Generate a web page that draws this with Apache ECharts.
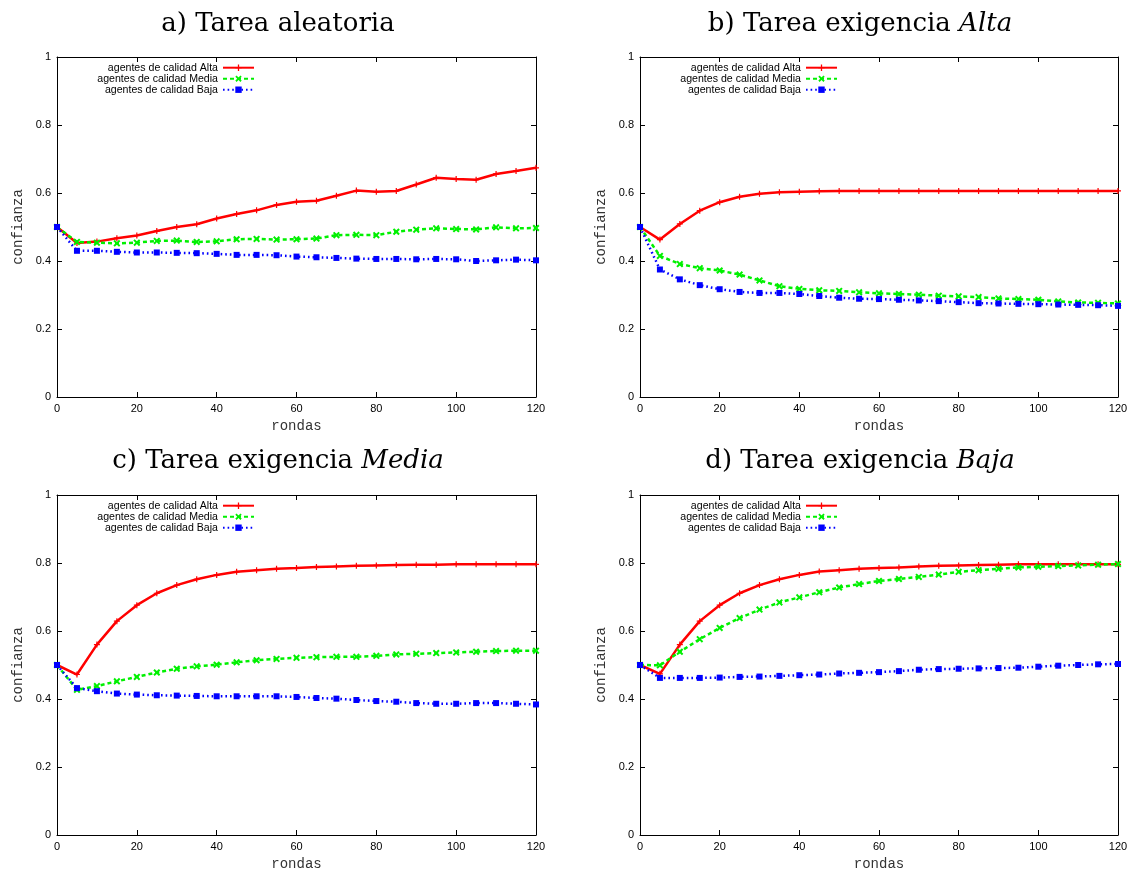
<!DOCTYPE html>
<html>
<head>
<meta charset="utf-8">
<script src="https://cdn.jsdelivr.net/npm/echarts@6/dist/echarts.min.js"></script>
<style>
  html, body { margin: 0; padding: 0; background: #ffffff; }
  #chart { width: 1132px; height: 873px; }
</style>
</head>
<body>
<div id="chart"></div>
<script>
// Rounds sampled every 5 steps
const rondas = [0, 5, 10, 15, 20, 25, 30, 35, 40, 45, 50, 55, 60, 65, 70, 75, 80, 85, 90, 95, 100, 105, 110, 115, 120];

// a) random task
const aleatoriaAlta  = [0.500, 0.453, 0.457, 0.467, 0.475, 0.488, 0.500, 0.508, 0.525, 0.538, 0.549, 0.565, 0.574, 0.577, 0.592, 0.607, 0.604, 0.606, 0.625, 0.645, 0.641, 0.639, 0.656, 0.665, 0.674];
const aleatoriaMedia = [0.500, 0.456, 0.454, 0.452, 0.454, 0.459, 0.460, 0.456, 0.458, 0.464, 0.465, 0.463, 0.464, 0.466, 0.476, 0.477, 0.476, 0.486, 0.492, 0.496, 0.494, 0.493, 0.499, 0.496, 0.497];
const aleatoriaBaja  = [0.500, 0.430, 0.430, 0.427, 0.425, 0.425, 0.424, 0.423, 0.421, 0.418, 0.418, 0.417, 0.413, 0.411, 0.409, 0.407, 0.406, 0.406, 0.405, 0.406, 0.405, 0.400, 0.402, 0.404, 0.402];

// b) high-demand task
const altaAlta  = [0.500, 0.463, 0.509, 0.548, 0.573, 0.589, 0.598, 0.602, 0.604, 0.605, 0.606, 0.606, 0.606, 0.606, 0.606, 0.606, 0.606, 0.606, 0.606, 0.606, 0.606, 0.606, 0.606, 0.606, 0.606];
const altaMedia = [0.500, 0.415, 0.391, 0.379, 0.372, 0.360, 0.343, 0.326, 0.318, 0.314, 0.312, 0.308, 0.305, 0.303, 0.301, 0.298, 0.296, 0.294, 0.290, 0.288, 0.286, 0.281, 0.278, 0.277, 0.275];
const altaBaja  = [0.500, 0.375, 0.346, 0.329, 0.317, 0.309, 0.306, 0.306, 0.303, 0.297, 0.292, 0.289, 0.288, 0.286, 0.284, 0.282, 0.279, 0.276, 0.275, 0.274, 0.273, 0.272, 0.271, 0.270, 0.268];

// c) medium-demand task
const mediaAlta  = [0.500, 0.472, 0.560, 0.629, 0.676, 0.711, 0.735, 0.752, 0.765, 0.774, 0.779, 0.783, 0.785, 0.788, 0.790, 0.792, 0.793, 0.794, 0.795, 0.795, 0.796, 0.796, 0.796, 0.796, 0.796];
const mediaMedia = [0.500, 0.427, 0.438, 0.452, 0.465, 0.478, 0.489, 0.496, 0.501, 0.508, 0.514, 0.518, 0.521, 0.523, 0.524, 0.524, 0.527, 0.531, 0.533, 0.535, 0.537, 0.539, 0.541, 0.542, 0.542];
const mediaBaja  = [0.500, 0.432, 0.423, 0.416, 0.413, 0.411, 0.410, 0.409, 0.408, 0.408, 0.408, 0.408, 0.406, 0.403, 0.401, 0.397, 0.394, 0.392, 0.388, 0.386, 0.386, 0.388, 0.388, 0.386, 0.384];

// d) low-demand task
const bajaAlta  = [0.500, 0.474, 0.560, 0.629, 0.676, 0.711, 0.735, 0.752, 0.765, 0.775, 0.779, 0.783, 0.785, 0.787, 0.790, 0.792, 0.793, 0.794, 0.795, 0.796, 0.796, 0.796, 0.796, 0.796, 0.796];
const bajaMedia = [0.500, 0.499, 0.539, 0.576, 0.609, 0.638, 0.663, 0.684, 0.699, 0.714, 0.728, 0.738, 0.747, 0.753, 0.759, 0.766, 0.774, 0.779, 0.783, 0.787, 0.789, 0.791, 0.793, 0.795, 0.797];
const bajaBaja  = [0.500, 0.462, 0.462, 0.462, 0.463, 0.465, 0.466, 0.468, 0.470, 0.472, 0.475, 0.477, 0.479, 0.482, 0.486, 0.488, 0.489, 0.490, 0.491, 0.492, 0.495, 0.498, 0.500, 0.502, 0.503];

const seriesNames = ['agentes de calidad Alta', 'agentes de calidad Media', 'agentes de calidad Baja'];
const panelTitles = [
  '{n|a) Tarea aleatoria}',
  '{n|b) Tarea exigencia }{i|Alta}',
  '{n|c) Tarea exigencia }{i|Media}',
  '{n|d) Tarea exigencia }{i|Baja}'
];
const panelData = [
  [aleatoriaAlta, aleatoriaMedia, aleatoriaBaja],
  [altaAlta, altaMedia, altaBaja],
  [mediaAlta, mediaMedia, mediaBaja],
  [bajaAlta, bajaMedia, bajaBaja]
];
const xName = 'rondas';
const yName = 'confianza';
const xMin = 0, xMax = 120, xStep = 20;
const yMin = 0, yMax = 1, yStep = 0.2;

// Panel frames (plot area boxes) and title anchors
const frames = [
  { left: 57,  top: 57,  width: 479, height: 340, titleX: 278, titleY: 24.5 },
  { left: 640, top: 57,  width: 478, height: 340, titleX: 860, titleY: 24.5 },
  { left: 57,  top: 495, width: 479, height: 340, titleX: 278, titleY: 461.5 },
  { left: 640, top: 495, width: 478, height: 340, titleX: 860, titleY: 461.5 }
];

// gnuplot-like point types
const plusSymbol  = 'path://M2,0H3V2H5V3H3V5H2V3H0V2H2Z';
const crossSymbol = 'path://M0,1L1,0L2.5,1.5L4,0L5,1L3.5,2.5L5,4L4,5L2.5,3.5L1,5L0,4L1.5,2.5Z';

const styles = [
  { color: '#ff0000', type: 'solid',  symbol: plusSymbol,  size: 6 },
  { color: '#00f000', type: [4, 3],   symbol: crossSymbol, size: 7 },
  { color: '#0000ff', type: [1.6, 3], symbol: 'rect',      size: 6 }
];

const tickFont = { fontFamily: 'Liberation Sans', fontSize: 11, color: '#000' };
const monoFont = { fontFamily: 'Liberation Mono', fontSize: 14, color: '#333' };

const grid = [], xAxis = [], yAxis = [], series = [], legend = [], graphic = [];

frames.forEach((f, p) => {
  grid.push({ left: f.left, top: f.top, width: f.width, height: f.height, show: false });

  const common = {
    type: 'value',
    gridIndex: p,
    splitLine: { show: false },
    axisLine: { show: true, onZero: false, lineStyle: { color: '#000', width: 1 } },
    axisTick: { show: true, inside: true, length: 5, lineStyle: { color: '#000', width: 1 } }
  };

  xAxis.push(Object.assign({}, common, {
    position: 'bottom', min: xMin, max: xMax, interval: xStep,
    axisLabel: Object.assign({ margin: 6 }, tickFont),
    name: xName, nameLocation: 'middle', nameGap: 22, nameTextStyle: monoFont
  }));
  xAxis.push(Object.assign({}, common, {
    position: 'top', min: xMin, max: xMax, interval: xStep,
    axisLabel: { show: false }
  }));
  yAxis.push(Object.assign({}, common, {
    position: 'left', min: yMin, max: yMax, interval: yStep,
    axisLabel: Object.assign({ margin: 6 }, tickFont),
    name: yName, nameLocation: 'middle', nameGap: 32, nameTextStyle: monoFont
  }));
  yAxis.push(Object.assign({}, common, {
    position: 'right', min: yMin, max: yMax, interval: yStep,
    axisLabel: { show: false }
  }));

  panelData[p].forEach((vals, s) => {
    const st = styles[s];
    series.push({
      type: 'line',
      name: seriesNames[s],
      xAxisIndex: p * 2,
      yAxisIndex: p * 2,
      data: rondas.map((r, i) => [r, vals[i]]),
      symbol: st.symbol,
      symbolSize: st.size,
      showAllSymbol: true,
      clip: false,
      lineStyle: { color: st.color, width: 2.5, type: st.type },
      itemStyle: { color: st.color },
      emphasis: { disabled: true }
    });
  });

  legend.push({
    data: seriesNames,
    orient: 'vertical',
    align: 'right',
    padding: 0,
    right: 1132 - (f.left + 198),
    top: f.top + 5.2,
    itemWidth: 31,
    itemHeight: 8,
    itemGap: 0,
    selectedMode: false,
    textStyle: { fontFamily: 'Liberation Sans', fontSize: 10.6, color: '#000' }
  });

  graphic.push({
    type: 'text',
    x: f.titleX,
    y: f.titleY,
    style: {
      text: panelTitles[p],
      align: 'center',
      verticalAlign: 'middle',
      fill: '#000',
      rich: {
        n: { fontFamily: 'DejaVu Serif', fontSize: 26, fill: '#000' },
        i: { fontFamily: 'DejaVu Serif', fontSize: 26, fontStyle: 'italic', fill: '#000' }
      }
    }
  });
});

const chart = echarts.init(document.getElementById('chart'), null, { renderer: 'canvas' });
chart.setOption({
  animation: false,
  backgroundColor: '#ffffff',
  grid, xAxis, yAxis, series, legend, graphic
});
</script>
</body>
</html>
